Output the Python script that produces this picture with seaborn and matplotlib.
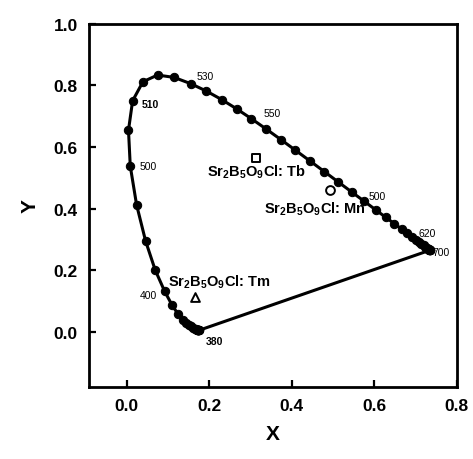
import matplotlib
matplotlib.use("Agg")
import matplotlib.pyplot as plt
import seaborn as sns
import pandas as pd

# =========================
# Data (CIE 1931 spectral locus, 5 nm steps 380-700)
# =========================

locus_x = [0.1741, 0.1740, 0.1738, 0.1736, 0.1733, 0.1730, 0.1726, 0.1721,
           0.1714, 0.1703, 0.1689, 0.1669, 0.1644, 0.1611, 0.1566, 0.1510,
           0.1440, 0.1355, 0.1241, 0.1096, 0.0913, 0.0687, 0.0454, 0.0235,
           0.0082, 0.0039, 0.0139, 0.0389, 0.0743, 0.1142, 0.1547, 0.1929,
           0.2296, 0.2658, 0.3016, 0.3373, 0.3731, 0.4087, 0.4441, 0.4788,
           0.5125, 0.5448, 0.5752, 0.6029, 0.6270, 0.6482, 0.6658, 0.6801,
           0.6915, 0.7006, 0.7079, 0.7140, 0.7190, 0.7230, 0.7260, 0.7283,
           0.7300, 0.7311, 0.7320, 0.7327, 0.7334, 0.7340, 0.7344, 0.7346,
           0.7347]
locus_y = [0.0050, 0.0050, 0.0049, 0.0049, 0.0048, 0.0048, 0.0048, 0.0048,
           0.0051, 0.0058, 0.0069, 0.0086, 0.0109, 0.0138, 0.0177, 0.0227,
           0.0297, 0.0399, 0.0578, 0.0868, 0.1327, 0.2007, 0.2950, 0.4127,
           0.5384, 0.6548, 0.7502, 0.8120, 0.8338, 0.8262, 0.8059, 0.7816,
           0.7543, 0.7243, 0.6923, 0.6589, 0.6245, 0.5896, 0.5547, 0.5202,
           0.4866, 0.4544, 0.4242, 0.3965, 0.3725, 0.3514, 0.3340, 0.3197,
           0.3083, 0.2993, 0.2920, 0.2859, 0.2809, 0.2770, 0.2740, 0.2717,
           0.2700, 0.2689, 0.2680, 0.2673, 0.2666, 0.2660, 0.2656, 0.2654,
           0.2653]

# wavelength labels as printed on the chart
wl_labels = ["530", "510", "500", "550", "500", "620", "700", "400", "380"]
wl_x = [0.190, 0.057, 0.052, 0.352, 0.607, 0.728, 0.762, 0.052, 0.212]
wl_y = [0.830, 0.740, 0.540, 0.710, 0.440, 0.320, 0.260, 0.120, -0.030]
wl_bold = [False, True, False, False, False, False, False, False, True]

# phosphor samples
samples = ["Tb", "Mn", "Tm"]
sample_x = [0.314, 0.493, 0.164]
sample_y = [0.565, 0.460, 0.113]
sample_markers = ["s", "o", "^"]
label_x = [0.314, 0.455, 0.223]
label_y = [0.520, 0.400, 0.165]

# =========================
# Style
# =========================

sns.set_style("ticks", {"axes.edgecolor": "black", "text.color": "black",
                        "axes.labelcolor": "black", "xtick.color": "black",
                        "ytick.color": "black"})
plt.rcParams["font.family"] = ["Liberation Sans", "DejaVu Sans"]
plt.rcParams["mathtext.fontset"] = "custom"
plt.rcParams["mathtext.default"] = "bf"
plt.rcParams["mathtext.bf"] = "Liberation Sans:bold"
plt.rcParams["mathtext.rm"] = "Liberation Sans"

fig = plt.figure(figsize=(4.73, 4.60), dpi=100)
ax = fig.add_axes([0.188, 0.157, 0.778, 0.789])

# =========================
# Spectral locus + purple line
# =========================

locus = pd.DataFrame({"x": locus_x, "y": locus_y})
sns.lineplot(data=locus, x="x", y="y", sort=False, color="black",
             linewidth=2.2, marker="o", markersize=6,
             markeredgecolor="black", ax=ax)

purple = pd.DataFrame({"x": [locus_x[-1], locus_x[0]],
                       "y": [locus_y[-1], locus_y[0]]})
sns.lineplot(data=purple, x="x", y="y", sort=False, color="black",
             linewidth=2.2, ax=ax)

for lab, x, y, b in zip(wl_labels, wl_x, wl_y, wl_bold):
    ax.text(x, y, lab, fontsize=7.5, ha="center", va="center",
            fontweight="bold" if b else "normal")

# =========================
# Samples
# =========================

for name, x, y, m, lx, ly in zip(samples, sample_x, sample_y,
                                 sample_markers, label_x, label_y):
    ax.scatter([x], [y], marker=m, s=40, facecolor="white",
               edgecolor="black", linewidth=1.4, zorder=5)
    ax.text(lx, ly, r"Sr$_2$B$_5$O$_9$Cl: " + name, fontsize=10.5,
            fontweight="bold", ha="center", va="center")

# =========================
# Axes
# =========================

ax.set_xlim(-0.092, 0.8)
ax.set_ylim(-0.178, 1.0)
ax.set_xticks([0.0, 0.2, 0.4, 0.6, 0.8])
ax.set_yticks([0.0, 0.2, 0.4, 0.6, 0.8, 1.0])
ax.xaxis.set_major_formatter(plt.FormatStrFormatter("%.1f"))
ax.yaxis.set_major_formatter(plt.FormatStrFormatter("%.1f"))
ax.tick_params(direction="in", length=5, width=1.6, labelsize=12.5,
               top=False, right=False, pad=8)
for lbl in ax.get_xticklabels() + ax.get_yticklabels():
    lbl.set_fontweight("bold")
for s in ax.spines.values():
    s.set_linewidth(2)
    s.set_visible(True)

ax.set_xlabel("X", fontsize=15, fontweight="bold", labelpad=8)
ax.set_ylabel("Y", fontsize=15, fontweight="bold", labelpad=10, rotation=90)

fig.savefig("out.png", dpi=100)
